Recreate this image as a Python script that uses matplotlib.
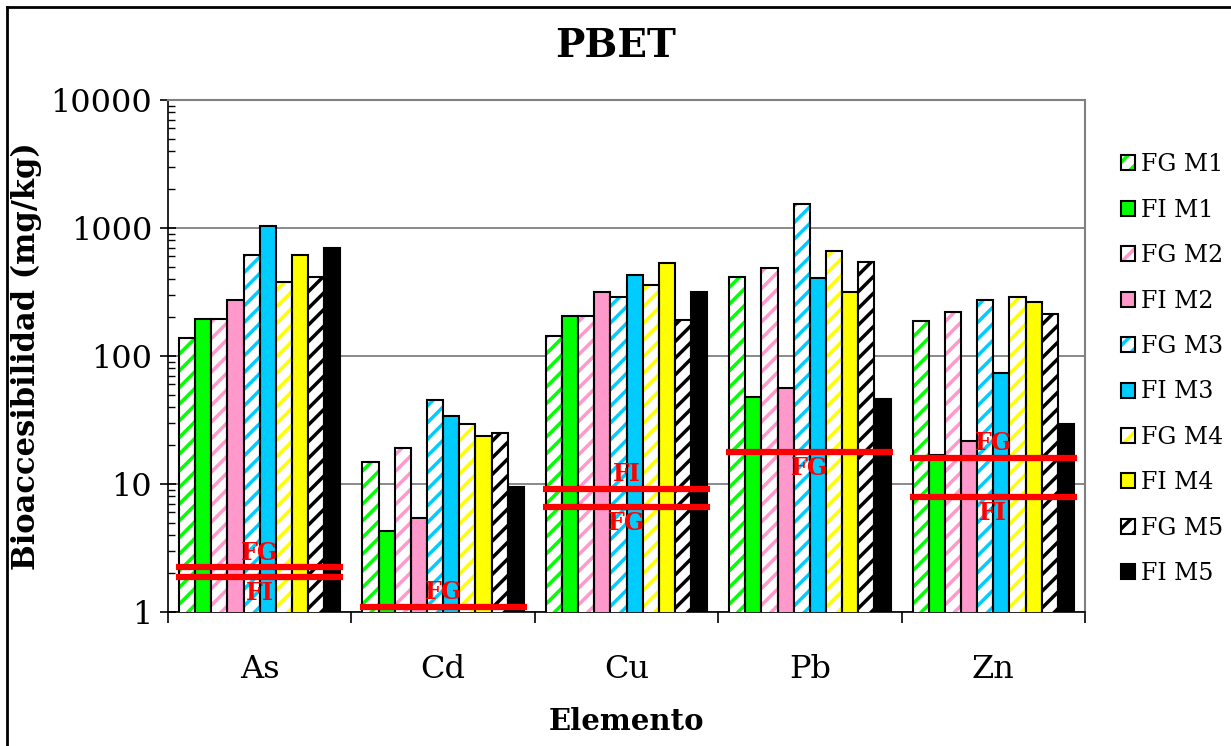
import matplotlib.pyplot as plt
import numpy as np
from matplotlib.patches import Patch
from matplotlib.lines import Line2D

plt.rcParams['font.family'] = ['DejaVu Serif']
plt.rcParams['hatch.linewidth'] = 2.5

elements = ["As", "Cd", "Cu", "Pb", "Zn"]
series = ["FG M1", "FI M1", "FG M2", "FI M2", "FG M3",
          "FI M3", "FG M4", "FI M4", "FG M5", "FI M5"]

fg_m1 = [138, 14.8, 144, 412, 187]
fi_m1 = [195, 4.3, 205, 47.6, 17.0]
fg_m2 = [195, 19.1, 204, 487, 221]
fi_m2 = [276, 5.4, 315, 56, 21.6]
fg_m3 = [612, 45.6, 287, 1540, 276]
fi_m3 = [1030, 33.8, 427, 407, 73.6]
fg_m4 = [378, 29.4, 361, 666, 291]
fi_m4 = [612, 23.9, 530, 315, 264]
fg_m5 = [412, 24.9, 192, 540, 213]
fi_m5 = [698, 9.55, 316, 46.1, 29.6]
values = [fg_m1, fi_m1, fg_m2, fi_m2, fg_m3, fi_m3, fg_m4, fi_m4, fg_m5, fi_m5]

# reference limits (red lines): element index, value, label
limit_elem = [0, 0, 1, 2, 2, 3, 4, 4]
limit_val = [2.23, 1.89, 1.1, 9.1, 6.6, 17.8, 15.9, 7.9]
limit_lbl = ["FG", "FI", "FG", "FI", "FG", "FG", "FG", "FI"]
limit_side = ["above", "below", "above", "above", "below", "below", "above", "below"]

colors = ["#00FF00", "#00FF00", "#FF99CC", "#FF99CC", "#00CCFF",
          "#00CCFF", "#FFFF00", "#FFFF00", "#000000", "#000000"]

fig = plt.figure(figsize=(12.31, 7.46), dpi=100)
ax = fig.add_axes([168/1231, 1-612/746, (1085-168)/1231, (612-100)/746])

x = np.arange(len(elements))
w = 0.088
handles = []
for i, (name, vals, c) in enumerate(zip(series, values, colors)):
    pos = x + (i - 4.5) * w
    if name.startswith("FG"):
        ax.bar(pos, vals, w, color="white", edgecolor=c, hatch="//", linewidth=0, zorder=3)
        ax.bar(pos, vals, w, fill=False, edgecolor="black", linewidth=1.5, zorder=4)
        handles.append((Patch(facecolor="white", edgecolor=c, hatch="//", linewidth=0),
                        Patch(facecolor="none", edgecolor="black", linewidth=1.5)))
    else:
        ax.bar(pos, vals, w, color=c, edgecolor="black", linewidth=1.5, zorder=3)
        handles.append(Patch(facecolor=c, edgecolor="black", linewidth=1.5))

for e, v, lbl, side in zip(limit_elem, limit_val, limit_lbl, limit_side):
    ax.plot([e - 0.455, e + 0.455], [v, v], color="#FF0000", linewidth=4.5,
            solid_capstyle="butt", zorder=5)
    off = 2 if side == "above" else -3
    ax.annotate(lbl, (e, v), xytext=(0, off), textcoords="offset points",
                ha="center", va="bottom" if side == "above" else "top",
                color="#FF0000", fontsize=17, fontweight="bold", zorder=6)

ax.set_yscale("log")
ax.set_ylim(1, 10000)
ax.set_xlim(-0.5, 4.5)
ax.set_yticks([1, 10, 100, 1000, 10000])
ax.set_yticklabels(["1", "10", "100", "1000", "10000"])
ax.yaxis.grid(True, which="major", color="#808080", linewidth=1.3, zorder=0)
ax.tick_params(axis="y", which="major", direction="inout", length=11, width=1.2,
               labelsize=23, pad=6)
ax.tick_params(axis="y", which="minor", direction="in", length=5, width=1.0)

ax.set_xticks(np.arange(-0.5, 5, 1))
ax.set_xticklabels([])
ax.set_xticks(x, minor=True)
ax.set_xticklabels(elements, minor=True)
ax.tick_params(axis="x", which="major", direction="out", length=8, width=1.2)
ax.tick_params(axis="x", which="minor", length=0, labelsize=23, pad=30)

for s in ["top", "right"]:
    ax.spines[s].set_color("#808080")
    ax.spines[s].set_linewidth(1.5)
for s in ["left", "bottom"]:
    ax.spines[s].set_color("black")
    ax.spines[s].set_linewidth(1.2)

ax.set_xlabel("Elemento", fontsize=21, fontweight="bold", labelpad=16)
ax.set_ylabel("Bioaccesibilidad (mg/kg)", fontsize=22, fontweight="bold", labelpad=6)
fig.text(0.5, 1 - 46/746, "PBET", fontsize=28, fontweight="bold", ha="center", va="center")

fig.legend(handles, series, loc="upper left", bbox_to_anchor=(1100/1231, 1 - 132/746),
           frameon=False, fontsize=17, handlelength=0.6, handleheight=0.6,
           handletextpad=0.25, labelspacing=0.95)

# outer chart border
fig.add_artist(Line2D([7/1231, 1], [1 - 7/746, 1 - 7/746], color="black", linewidth=2))
fig.add_artist(Line2D([7/1231, 7/1231], [0, 1 - 7/746], color="black", linewidth=2))

fig.savefig("out.png", dpi=100)
